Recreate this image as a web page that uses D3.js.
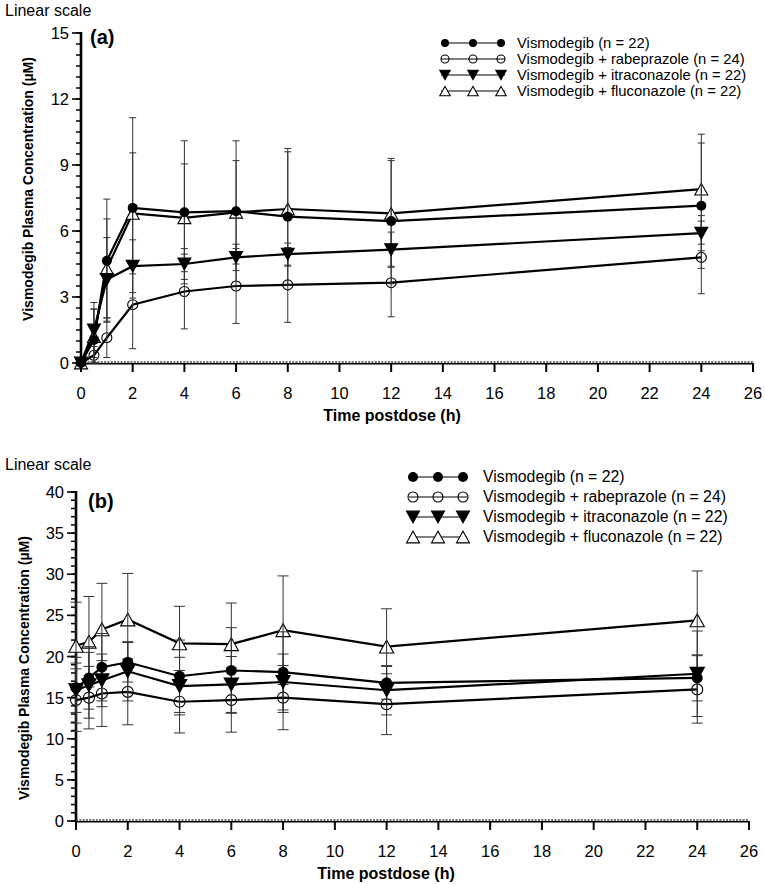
<!DOCTYPE html>
<html><head><meta charset="utf-8">
<script src="https://cdn.jsdelivr.net/npm/d3@7"></script>
<style>body{margin:0;background:#fff}svg{display:block}text{font-family:"Liberation Sans",Arial,sans-serif}</style>
</head><body>
<svg id="c" width="765" height="884"></svg>
<script>
const times = [0, 0.5, 1, 2, 4, 6, 8, 12, 24];
const seriesNames = ["Vismodegib (n = 22)", "Vismodegib + rabeprazole (n = 24)", "Vismodegib + itraconazole (n = 22)", "Vismodegib + fluconazole (n = 22)"];
const markerTypes = ["filledCircle", "openCircle", "filledDown", "openUp"];
// Panel (a)
const visA  = [0, 1.05, 4.65, 7.05, 6.85, 6.9, 6.65, 6.45, 7.15];
const rabeA = [0, 0.35, 1.15, 2.65, 3.25, 3.5, 3.55, 3.65, 4.8];
const itraA = [0, 1.5, 3.8, 4.4, 4.5, 4.8, 4.95, 5.15, 5.9];
const fluA  = [0, 1.2, 4.3, 6.8, 6.6, 6.85, 7.0, 6.8, 7.9];
const visA_sd  = [0, 1.4, 2.8, 4.1, 3.25, 3.2, 3.1, 2.85, 2.85];
const rabeA_sd = [0, 0.4, 0.9, 2.0, 1.7, 1.7, 1.7, 1.55, 1.65];
const itraA_sd = [0, 1.25, 1.9, 1.2, 0.7, 0.6, 0.5, 0.8, 0.8];
const fluA_sd  = [0, 1.25, 2.25, 2.75, 2.45, 2.35, 2.6, 2.4, 2.5];
// Panel (b)
const visB  = [16.2, 17.4, 18.7, 19.3, 17.6, 18.3, 18.1, 16.8, 17.4];
const rabeB = [14.7, 15.0, 15.5, 15.7, 14.5, 14.7, 15.0, 14.2, 16.0];
const itraB = [15.9, 16.5, 17.1, 18.2, 16.4, 16.6, 16.9, 15.9, 17.9];
const fluB  = [21.3, 21.8, 23.3, 24.5, 21.6, 21.5, 23.2, 21.2, 24.4];
const visB_sd  = [3.0, 3.8, 4.1, 2.4, 4.4, 5.2, 4.9, 2.0, 2.8];
const rabeB_sd = [3.8, 3.8, 4.0, 4.0, 3.8, 3.9, 3.9, 3.7, 4.1];
const itraB_sd = [4.0, 4.0, 3.2, 3.6, 3.5, 3.4, 3.4, 3.0, 5.2];
const fluB_sd  = [5.3, 5.5, 5.6, 5.6, 4.5, 5.0, 6.6, 4.6, 6.0];
const yTicksA = [0, 3, 6, 9, 12, 15];
const yTicksB = [0, 5, 10, 15, 20, 25, 30, 35, 40];
const xTicks = d3.range(0, 27, 2);

const svg = d3.select("#c");

function markerPath(type, s) {
  const h = s * 0.9;
  if (type === "filledDown") return `M${-s/2},${-h/2}L${s/2},${-h/2}L0,${h/2}Z`;
  if (type === "openUp") return `M${-s/2},${h/2}L${s/2},${h/2}L0,${-h/2}Z`;
  return null;
}
function drawMarker(g, type, x, y, r) {
  if (type === "filledCircle") {
    g.append("circle").attr("cx", x).attr("cy", y).attr("r", r).attr("fill", "#000");
  } else if (type === "openCircle") {
    g.append("circle").attr("cx", x).attr("cy", y).attr("r", r).attr("fill", "none").attr("stroke", "#000").attr("stroke-width", 1.1);
  } else {
    g.append("path").attr("transform", `translate(${x},${y})`).attr("d", markerPath(type, r * 2.6))
      .attr("fill", type === "filledDown" ? "#000" : "#fff").attr("stroke", "#000").attr("stroke-width", 1.1);
  }
}

function drawPanel(cfg) {
  const g = svg.append("g");
  const x = d3.scaleLinear().domain([0, 26]).range(cfg.xr);
  const y = d3.scaleLinear().domain([0, cfg.ymax]).range(cfg.yr);
  const y0 = y(0), x0 = x(0);

  d3.range(0, cfg.ymax + 1e-9, cfg.yminor).forEach(v => {
    g.append("line").attr("x1", x0 - 5).attr("x2", x0).attr("y1", y(v)).attr("y2", y(v)).attr("stroke", "#000").attr("stroke-width", 1.5);
  });
  cfg.yTicks.forEach(v => {
    g.append("line").attr("x1", x0 - 9).attr("x2", x0).attr("y1", y(v)).attr("y2", y(v)).attr("stroke", "#000").attr("stroke-width", 1.6);
    g.append("text").attr("x", x0 - 12).attr("y", y(v) + 6).attr("text-anchor", "end").attr("font-size", 16.5).text(v);
  });
  g.append("line").attr("x1", x0).attr("x2", x0).attr("y1", y(cfg.ymax) - 1).attr("y2", y0 + 1).attr("stroke", "#000").attr("stroke-width", 2.6);

  g.append("line").attr("x1", x0).attr("x2", x(26)).attr("y1", y0 + 0.8).attr("y2", y0 + 0.8).attr("stroke", "#000").attr("stroke-width", 1.6);
  g.append("line").attr("x1", x0).attr("x2", x(26)).attr("y1", y0 - 1).attr("y2", y0 - 1).attr("stroke", "#444").attr("stroke-width", 1.6).attr("stroke-dasharray", "2,1.3");
  xTicks.forEach(v => {
    g.append("line").attr("x1", x(v)).attr("x2", x(v)).attr("y1", y0).attr("y2", y0 + 9).attr("stroke", "#000").attr("stroke-width", 2);
    g.append("text").attr("x", x(v)).attr("y", y0 + 36).attr("text-anchor", "middle").attr("font-size", 16.5).text(v);
  });
  g.append("text").attr("x", cfg.xTitleX).attr("y", y0 + 58).attr("text-anchor", "middle").attr("font-size", 16).attr("font-weight", "bold").text("Time postdose (h)");
  g.append("text").attr("transform", `translate(${cfg.yTitleX},${cfg.yTitleY}) rotate(-90)`).attr("text-anchor", "middle")
    .attr("font-size", 14).attr("font-weight", "bold").text("Vismodegib Plasma Concentration (\u00b5M)");
  g.append("text").attr("x", 5).attr("y", cfg.scaleY).attr("font-size", 16).text("Linear scale");
  g.append("text").attr("x", cfg.tagX).attr("y", cfg.tagY).attr("font-size", 20).attr("font-weight", "bold").text(cfg.tag);

  const line = d3.line().x(d => x(d[0])).y(d => y(d[1]));
  cfg.series.forEach(s => {
    g.append("path").attr("d", line(times.map((t, i) => [t, s.v[i]]))).attr("fill", "none").attr("stroke", "#000").attr("stroke-width", 2.2);
  });
  const drawBars = s => {
    times.forEach((t, i) => {
      if (!s.sd[i]) return;
      const xx = x(t), hi = y(s.v[i] + s.sd[i]), lo = y(Math.max(0, s.v[i] - s.sd[i]));
      g.append("line").attr("x1", xx).attr("x2", xx).attr("y1", hi).attr("y2", lo).attr("stroke", "#333").attr("stroke-width", 1);
      [hi, lo].forEach(yy => g.append("line").attr("x1", xx - cfg.cap).attr("x2", xx + cfg.cap).attr("y1", yy).attr("y2", yy).attr("stroke", "#333").attr("stroke-width", 1));
    });
  };
  cfg.series.forEach((s, k) => { if (markerTypes[k].startsWith("open")) times.forEach((t, i) => drawMarker(g, markerTypes[k], x(t), y(s.v[i]), cfg.r)); });
  cfg.series.forEach(drawBars);
  cfg.series.forEach((s, k) => { if (!markerTypes[k].startsWith("open")) times.forEach((t, i) => drawMarker(g, markerTypes[k], x(t), y(s.v[i]), cfg.r)); });

  seriesNames.forEach((name, k) => {
    const ly = cfg.legY + k * cfg.legDy;
    const lx = cfg.legX;
    g.append("line").attr("x1", lx - 4).attr("x2", lx + cfg.legW + 4).attr("y1", ly).attr("y2", ly).attr("stroke", "#000").attr("stroke-width", 1);
    [0, 0.5, 1].forEach(f => drawMarker(g, markerTypes[k], lx + f * cfg.legW, ly, cfg.legR));
    g.append("text").attr("x", cfg.legTx).attr("y", ly + 5).attr("font-size", cfg.legFs).text(name);
  });
}

drawPanel({
  xr: [81, 753], yr: [363, 33], ymax: 15, yminor: 0.5, yTicks: yTicksA,
  series: [{v: visA, sd: visA_sd}, {v: rabeA, sd: rabeA_sd}, {v: itraA, sd: itraA_sd}, {v: fluA, sd: fluA_sd}],
  r: 5, cap: 3.5, xTitleX: 392, yTitleX: 33, yTitleY: 189, scaleY: 16, tag: "(a)", tagX: 90, tagY: 44,
  legX: 445, legW: 56, legR: 4, legY: 43, legDy: 16, legTx: 517, legFs: 14.8
});
drawPanel({
  xr: [76, 749], yr: [821, 492], ymax: 40, yminor: 1, yTicks: yTicksB,
  series: [{v: visB, sd: visB_sd}, {v: rabeB, sd: rabeB_sd}, {v: itraB, sd: itraB_sd}, {v: fluB, sd: fluB_sd}],
  r: 5.5, cap: 5.5, xTitleX: 386, yTitleX: 29, yTitleY: 668, scaleY: 470, tag: "(b)", tagX: 88, tagY: 508,
  legX: 413, legW: 50, legR: 5, legY: 477, legDy: 20, legTx: 483, legFs: 15.8
});
</script>
</body></html>
